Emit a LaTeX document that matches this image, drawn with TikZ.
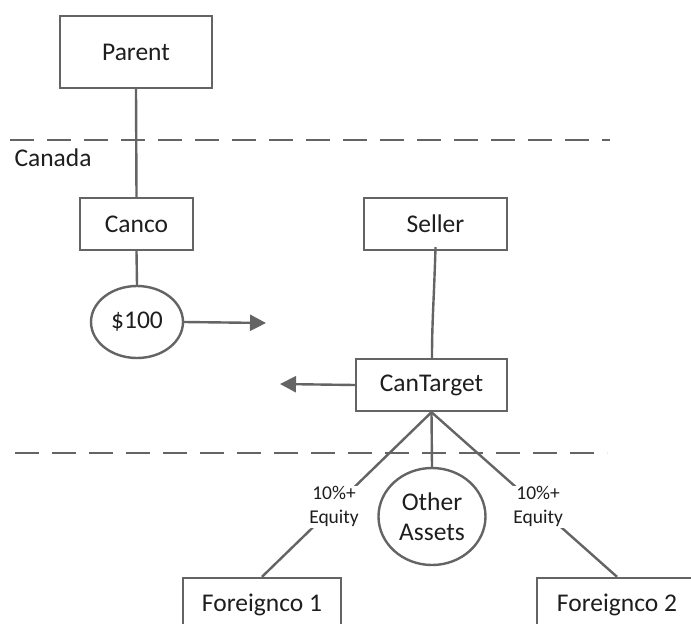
\documentclass[tikz,border=0pt]{standalone}
\usepackage{fontspec}
\setmainfont{Carlito}
\usetikzlibrary{arrows.meta,shapes.geometric}
\definecolor{ln}{HTML}{646464}
\definecolor{tx}{HTML}{1E1E1E}
\tikzset{
  box/.style={draw=ln,line width=2.4pt,rectangle,inner sep=0pt,text=tx,font=\fontsize{25.5}{30}\selectfont},
  oval/.style={draw=ln,line width=2.4pt,ellipse,inner sep=0pt,text=tx,align=center,font=\fontsize{25.5}{30}\selectfont},
  conn/.style={draw=ln,line width=2.4pt},
  arr/.style={conn,-{Triangle[length=16pt,width=16pt]}},
  sep/.style={draw=ln,line width=2.4pt,dash pattern=on 24pt off 13pt},
  lab/.style={fill=white,inner sep=1pt,text=tx,align=center,font=\fontsize{19.5}{24}\selectfont}
}
\begin{document}
\begin{tikzpicture}[x=1pt,y=-1pt]
\useasboundingbox (0,0) rectangle (691,624);
\clip (0,0) rectangle (691,624);
\fill[white] (0,0) rectangle (691,624);
% separators
\path[sep] (10,140) -- (610,140);
\path[sep] (15,453) -- (607,453);
\node[text=tx,anchor=west,font=\fontsize{25.5}{30}\selectfont] (canada) at (11,158) {Canada};
% nodes
\node[box,minimum width=152pt,minimum height=72pt] (parent) at (136,52) {Parent};
\node[box,minimum width=113pt,minimum height=52pt] (canco) at (136.5,224) {Canco};
\node[oval,minimum width=92pt,minimum height=72pt] (cash) at (137,322) {\$100};
\node[box,minimum width=143pt,minimum height=52pt] (seller) at (435.5,224) {Seller};
\node[box,minimum width=151pt,minimum height=52pt] (target) at (431.5,385) {CanTarget};
\node[oval,minimum width=107pt,minimum height=97pt] (other) at (432,516.5) {Other\\Assets};
\node[box,minimum width=158pt,minimum height=54pt] (f1) at (262,605) {Foreignco 1};
\node[box,minimum width=160pt,minimum height=54pt] (f2) at (617,605) {Foreignco 2};
\coordinate (cashto) at (266,323);
\coordinate (tgtto) at (280,384);
% connectors
\path[conn] (parent.south) -- (canco.north);
\path[conn] (canco.south) -- (cash.north);
\path[arr] (cash.east) -- (cashto);
\path[conn] ([yshift=4pt]seller.south) .. controls (434,300) and (432,320) .. (target.north -| 432,0);
\path[arr] (target.west) -- (tgtto);
\path[conn] (target.south) -- (other.north);
\path[conn] (target.south) -- (f1.north) node[lab,pos=0.575] {10\%+\\Equity};
\path[conn] (target.south) -- (f2.north) node[lab,pos=0.575] {10\%+\\Equity};
\end{tikzpicture}
\end{document}
